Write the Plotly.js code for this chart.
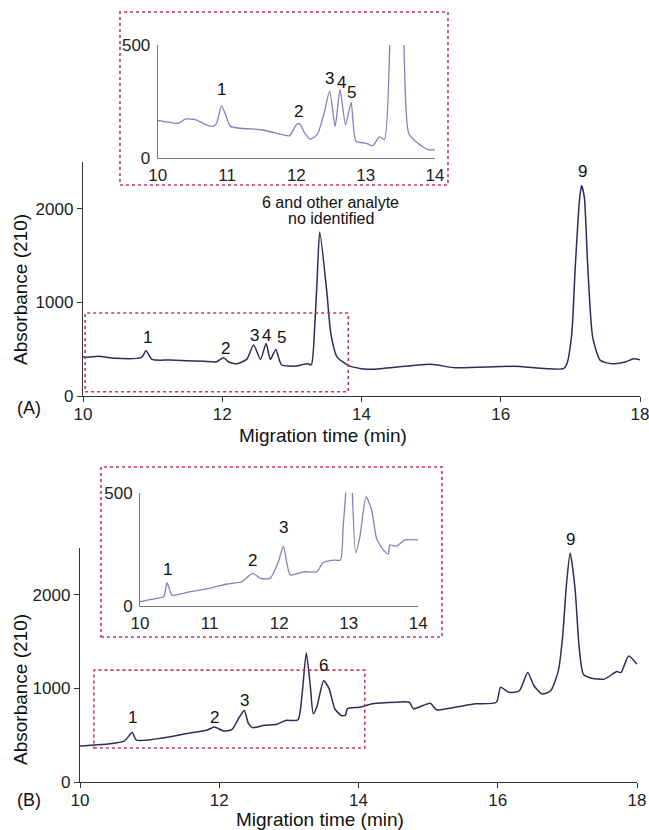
<!DOCTYPE html>
<html>
<head>
<meta charset="utf-8">
<script src="https://cdn.plot.ly/plotly-3.0.1.min.js"></script>
<style>html,body{margin:0;padding:0;background:#fff;}#chart{width:649px;height:830px;}</style>
</head>
<body>
<div id="chart"></div>
<script>
// ---- Panel A, main electropherogram ----
const timeA = [10.0, 10.08, 10.22, 10.46, 10.84, 10.905, 10.99, 11.25, 11.73, 11.92, 12.02, 12.09, 12.21, 12.35, 12.45, 12.55, 12.63, 12.69, 12.77, 12.85, 13.07, 13.16, 13.23, 13.28, 13.33, 13.36, 13.40, 13.5, 13.56, 13.65, 13.81, 14.0, 14.16, 14.99, 15.35, 16.18, 16.9, 16.95, 17.02, 17.07, 17.13, 17.16, 17.2, 17.25, 17.32, 17.43, 17.6, 17.79, 17.91, 18.0];
const absA  = [419, 413, 425, 402, 413, 483, 391, 384, 370, 366, 409, 363, 345, 391, 544, 391, 562, 391, 498, 334, 320, 338, 345, 334, 772, 1199, 1751, 1128, 665, 416, 327, 292, 285, 338, 302, 317, 292, 345, 665, 1377, 2089, 2249, 2125, 1377, 630, 381, 345, 363, 399, 388];

// ---- Panel A, inset (10-14 min) ----
const timeAi = [10.0, 10.3, 10.4, 10.55, 10.7, 10.8, 10.85, 10.92, 10.98, 11.05, 11.5, 11.8, 11.9, 12.0, 12.05, 12.12, 12.2, 12.3, 12.4, 12.48, 12.56, 12.63, 12.71, 12.79, 12.86, 13.0, 13.1, 13.2, 13.27, 13.35, 13.45, 13.55, 13.62, 13.75, 13.9, 14.0];
const absAi  = [166, 154, 172, 169, 147, 140, 154, 231, 191, 140, 125, 103, 98, 147, 151, 110, 84, 103, 198, 297, 140, 304, 147, 246, 74, 66, 54, 93, 81, 520, 1700, 520, 110, 66, 37, 37];

// ---- Panel B, main electropherogram ----
const timeB = [10.0, 10.4, 10.64, 10.75, 10.81, 11.23, 11.53, 11.82, 11.93, 12.06, 12.18, 12.29, 12.36, 12.42, 12.48, 12.65, 12.83, 12.95, 13.13, 13.19, 13.25, 13.31, 13.35, 13.4, 13.5, 13.58, 13.66, 13.75, 13.81, 13.84, 14.02, 14.2, 14.55, 14.73, 14.79, 15.03, 15.12, 15.39, 15.68, 15.98, 16.04, 16.16, 16.31, 16.43, 16.52, 16.64, 16.76, 16.87, 16.93, 16.99, 17.04, 17.11, 17.17, 17.23, 17.35, 17.53, 17.71, 17.77, 17.88, 18.0];
const absB  = [384, 405, 440, 528, 447, 475, 518, 553, 588, 546, 560, 694, 764, 623, 581, 606, 616, 658, 665, 940, 1380, 1010, 729, 799, 1081, 993, 782, 711, 711, 782, 799, 835, 852, 852, 782, 842, 771, 799, 835, 852, 1011, 958, 975, 1169, 1028, 940, 975, 1187, 1539, 2137, 2447, 2067, 1433, 1151, 1109, 1099, 1180, 1169, 1345, 1257];

// ---- Panel B, inset (10-14 min) ----
const timeBi = [10.0, 10.24, 10.34, 10.39, 10.46, 10.72, 11.0, 11.25, 11.46, 11.62, 11.73, 11.87, 11.99, 12.06, 12.16, 12.35, 12.54, 12.63, 12.78, 12.88, 12.92, 12.96, 13.0, 13.05, 13.1, 13.16, 13.25, 13.33, 13.4, 13.5, 13.57, 13.59, 13.69, 13.81, 14.0];
const absBi  = [18, 32, 40, 102, 47, 62, 77, 96, 106, 143, 121, 121, 195, 264, 136, 150, 150, 190, 202, 202, 350, 520, 1400, 520, 234, 305, 482, 423, 298, 246, 229, 268, 264, 291, 291];

// ---- tick labels ----
const mainTimeTicks = [10, 12, 14, 16, 18];
const mainAbsTicks = [0, 1000, 2000];
const insetTimeTicks = [10, 11, 12, 13, 14];
const insetAbsTicks = [0, 500];

// ---- peak labels (y = label centre) ----
const peakA = {x: [10.92, 12.05, 12.47, 12.64, 12.85, 17.18], y: [620, 512, 650, 650, 620, 2400], t: ['1','2','3','4','5','9']};
const peakAi = {x: [10.92, 12.03, 12.48, 12.65, 12.8], y: [301, 204, 354, 336, 288], t: ['1','2','3','4','5']};
const peakB = {x: [10.75, 11.93, 12.36, 13.5], y: [694, 690, 875, 1250], t: ['1','2','3','6']};
const peakBi = {x: [10.39, 11.62, 12.06, 13.25], y: [158, 202, 348, 552], t: ['1','2','3','6']};
// label "9" of panel B sits just above its peak apex
const peakB9 = {x: 17.04, y: 2447, t: '9'};

const F = 'Liberation Sans, Arial, Helvetica, sans-serif';
const mainColor = '#2c2d58';
const insetColor = '#8282bb';
const boxColor = '#c8365a';

const traces = [
  {x: timeA, y: absA, xaxis: 'x', yaxis: 'y', type: 'scatter', mode: 'lines', line: {color: mainColor, width: 1.5, shape: 'spline', smoothing: 0.6}},
  {x: timeAi, y: absAi, xaxis: 'x2', yaxis: 'y2', type: 'scatter', mode: 'lines', line: {color: insetColor, width: 1.3, shape: 'spline', smoothing: 0.6}},
  {x: timeB, y: absB, xaxis: 'x3', yaxis: 'y3', type: 'scatter', mode: 'lines', line: {color: mainColor, width: 1.5, shape: 'spline', smoothing: 0.6}},
  {x: timeBi, y: absBi, xaxis: 'x4', yaxis: 'y4', type: 'scatter', mode: 'lines', line: {color: insetColor, width: 1.3, shape: 'spline', smoothing: 0.6}}
];

function mainX(dom, anchor) {
  return {domain: dom, anchor: anchor, range: [10, 18], tickvals: mainTimeTicks, showline: true, linecolor: '#333', linewidth: 1.2,
    ticks: 'outside', ticklen: 5, tickcolor: '#333', showgrid: false, zeroline: false, ticklabeloverflow: 'allow', ticklabelstandoff: -3,
    tickfont: {family: F, size: 17, color: '#222'}, fixedrange: true};
}
function mainY(dom, anchor) {
  return {domain: dom, anchor: anchor, range: [0, 2500], tickvals: mainAbsTicks, showline: true, linecolor: '#333', linewidth: 1.2,
    ticks: 'outside', ticklen: 5, tickcolor: '#333', showgrid: false, zeroline: false, tickfont: {family: F, size: 17, color: '#222'}, fixedrange: true};
}
function insetX(dom, anchor) {
  return {domain: dom, anchor: anchor, range: [10, 14], tickvals: insetTimeTicks, showline: true, linecolor: '#777', linewidth: 1,
    ticks: '', showgrid: false, zeroline: false, ticklabeloverflow: 'allow', ticklabelstandoff: 2,
    tickfont: {family: F, size: 17, color: '#222'}, fixedrange: true};
}
function insetY(dom, anchor) {
  return {domain: dom, anchor: anchor, range: [0, 500], tickvals: insetAbsTicks, showline: true, linecolor: '#777', linewidth: 1,
    ticks: '', showgrid: false, zeroline: false, ticklabelstandoff: 3, tickfont: {family: F, size: 17, color: '#222'}, fixedrange: true};
}

const annotations = [];
function addPeaks(p, xr, yr) {
  for (let i = 0; i < p.t.length; i++) {
    annotations.push({x: p.x[i], y: p.y[i], xref: xr, yref: yr, text: p.t[i], showarrow: false, xanchor: 'center', yanchor: 'middle',
      font: {family: F, size: 17, color: '#111'}});
  }
}
addPeaks(peakA, 'x', 'y');
addPeaks(peakAi, 'x2', 'y2');
addPeaks(peakB, 'x3', 'y3');
addPeaks(peakBi, 'x4', 'y4');
annotations.push({x: peakB9.x, y: peakB9.y, xref: 'x3', yref: 'y3', text: peakB9.t, showarrow: false, xanchor: 'center', yanchor: 'bottom',
  yshift: 2, font: {family: F, size: 17, color: '#111'}});

// note above the unresolved peak (two lines placed separately for tight spacing)
const noteLines = ['6 and other analyte', 'no identified'];
const noteY = [2065, 1895];
for (let i = 0; i < noteLines.length; i++) {
  annotations.push({x: 13.56, y: noteY[i], xref: 'x', yref: 'y', text: noteLines[i], showarrow: false,
    xanchor: 'center', yanchor: 'middle', font: {family: F, size: 16, color: '#111'}});
}

function paperText(px, py, text, size, angle) {
  annotations.push({x: px/649, y: 1 - py/830, xref: 'paper', yref: 'paper', text: text, showarrow: false,
    xanchor: 'center', yanchor: 'middle', textangle: angle || 0, font: {family: F, size: size, color: '#111'}});
}
paperText(323, 435, 'Migration time (min)', 19);
paperText(320, 819, 'Migration time (min)', 19);
paperText(20, 290, 'Absorbance (210)', 19, -90);
paperText(20, 690, 'Absorbance (210)', 19, -90);
paperText(29, 408, '(A)', 18);
paperText(29, 800, '(B)', 18);

const boxLine = {color: boxColor, width: 1.6, dash: 'dot'};
const shapes = [
  {type: 'rect', xref: 'paper', yref: 'paper', x0: 120/649, x1: 448/649, y0: 1 - 185/830, y1: 1 - 12/830, line: boxLine},
  {type: 'rect', xref: 'paper', yref: 'paper', x0: 101/649, x1: 442/649, y0: 1 - 637/830, y1: 1 - 467/830, line: boxLine},
  {type: 'rect', xref: 'x', yref: 'y', x0: 10.03, x1: 13.81, y0: 45, y1: 886, line: boxLine},
  {type: 'rect', xref: 'x3', yref: 'y3', x0: 10.2, x1: 14.09, y0: 363, y1: 1195, line: boxLine}
];

const layout = {
  width: 649, height: 830,
  margin: {l: 0, r: 0, t: 0, b: 0},
  paper_bgcolor: '#fff', plot_bgcolor: 'rgba(0,0,0,0)',
  showlegend: false,
  font: {family: F, size: 17, color: '#111'},
  xaxis: mainX([83/649, 640/649], 'y'),
  yaxis: mainY([1 - 396/830, 1 - 162/830], 'x'),
  xaxis2: insetX([157.7/649, 435/649], 'y2'),
  yaxis2: insetY([1 - 158/830, 1 - 45/830], 'x2'),
  xaxis3: mainX([80/649, 637/649], 'y3'),
  yaxis3: mainY([1 - 782/830, 1 - 548/830], 'x3'),
  xaxis4: insetX([140/649, 418.3/649], 'y4'),
  yaxis4: insetY([1 - 605.7/830, 1 - 492.7/830], 'x4'),
  annotations: annotations,
  shapes: shapes
};

Plotly.newPlot('chart', traces, layout, {displayModeBar: false, staticPlot: true});
</script>
</body>
</html>
